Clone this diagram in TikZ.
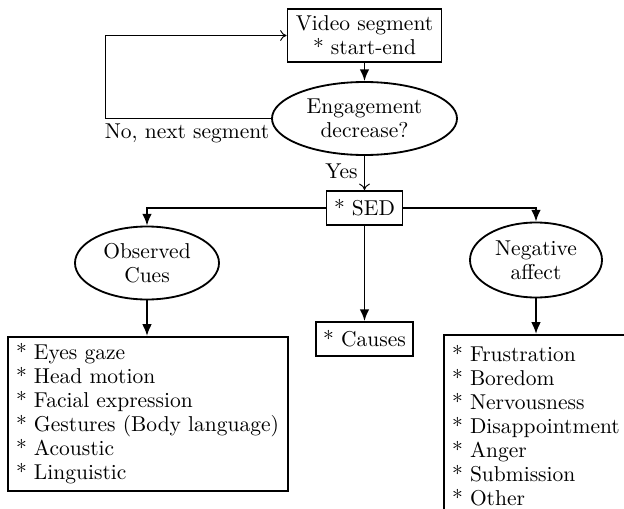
\documentclass[tikz,border=0pt]{standalone}
\usetikzlibrary{shapes.geometric,arrows.meta}
\begin{document}
\begin{tikzpicture}[x=0.4651pt,y=-0.4651pt,
  every node/.style={font=\fontsize{10}{11.16}\selectfont},
  boxn/.style={draw,line width=0.85pt,rectangle,inner sep=0pt,align=center},
  elln/.style={draw,line width=0.85pt,ellipse,inner sep=0pt,align=center},
  listn/.style={draw,line width=0.85pt,rectangle,inner xsep=3.8pt,inner ysep=0pt,align=left,anchor=north west},
  mainarr/.style={line width=0.85pt,-{Latex[length=5.5pt,width=4.5pt]}},
  thinarr/.style={line width=0.45pt,-{To[length=3pt,width=5pt]}},
  lbl/.style={inner sep=0pt}]
\clip (0,0) rectangle (624,508);
\node[boxn,minimum width=154*0.4651pt,minimum height=53*0.4651pt] (vid) at (364.5,35.5) {Video segment\\{*} start-end};
\node[elln,minimum width=185*0.4651pt,minimum height=73*0.4651pt] (eng) at (364.5,118.5) {Engagement\\decrease?};
\node[boxn,minimum width=76*0.4651pt,minimum height=34*0.4651pt] (sed) at (364.5,208) {* SED};
\node[elln,minimum width=144*0.4651pt,minimum height=73*0.4651pt] (obs) at (147,263) {Observed\\Cues};
\node[elln,minimum width=132*0.4651pt,minimum height=75*0.4651pt] (neg) at (536,260) {Negative\\affect};
\node[boxn,minimum width=97*0.4651pt,minimum height=34*0.4651pt] (cau) at (364.5,339) {* Causes};
\node[listn,text width=264*0.4651pt,minimum height=154*0.4651pt] (obsbox) at (7,336) {* Eyes gaze\\{*} Head motion\\{*} Facial expression\\{*} Gestures (Body language)\\{*} Acoustic\\{*} Linguistic};
\node[listn,text width=170*0.4651pt,minimum height=182*0.4651pt] (negbox) at (443,334) {* Frustration\\{*} Boredom\\{*} Nervousness\\{*} Disappointment\\{*} Anger\\{*} Submission\\{*} Other};
\node[lbl] (nolbl) at (187,133) {No, next segment};
\node[lbl] (yeslbl) at (341.5,171) {Yes};
\coordinate (loopc) at (105,35.5);
\draw[mainarr] (vid.south) -- (eng.north);
\draw[thinarr] (eng.west) -| (loopc) -- (vid.west);
\draw[thinarr] (eng.south) -- (sed.north);
\draw[mainarr] (sed.west) -| (obs.north);
\draw[mainarr] (sed.east) -| (neg.north);
\draw[mainarr] (sed.south) -- (cau.north);
\draw[mainarr] (obs.south) -- (obs.south |- obsbox.north);
\draw[mainarr] (neg.south) -- (neg.south |- negbox.north);
\end{tikzpicture}
\end{document}
